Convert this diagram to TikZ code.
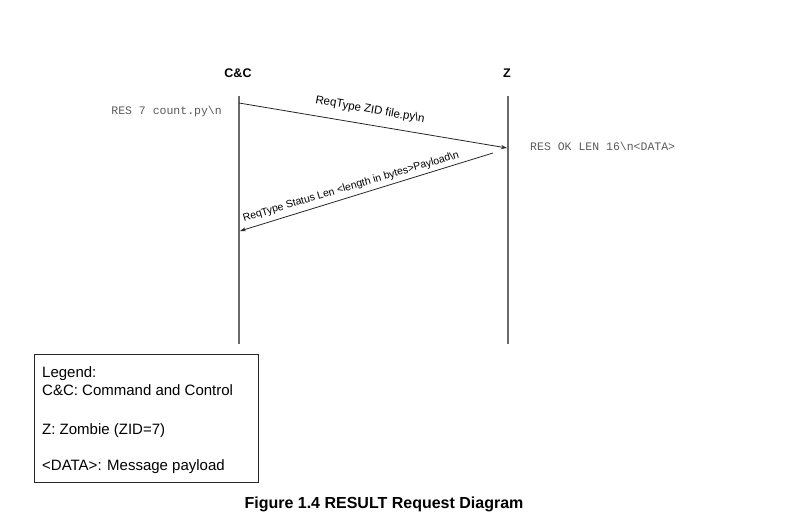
\documentclass[tikz,border=0pt]{standalone}
\usepackage{fontspec}
\setmainfont{Liberation Sans}
\newfontfamily\monofam{Liberation Mono}
\usetikzlibrary{arrows.meta}
\definecolor{monogray}{HTML}{5a5a5a}
\definecolor{linegray}{HTML}{6a6a6a}
\tikzset{
  lifeline/.style={draw=linegray, line width=1.2pt},
  msg/.style={draw=black!85, line width=0.8pt, -{Stealth[length=6pt,width=4pt]}},
  actor/.style={font=\fontsize{12.5}{14}\selectfont\bfseries, inner sep=0pt, anchor=base},
  msglabel/.style={inner sep=0pt, anchor=center},
  monotext/.style={font=\monofam\fontsize{11.5}{13}\selectfont, text=monogray, inner sep=0pt},
  legendtext/.style={font=\fontsize{15}{17}\selectfont, inner sep=0pt, anchor=base west},
  legendbox/.style={draw=black!85, line width=0.8pt, inner sep=0pt}
}
\begin{document}
\begin{tikzpicture}[x=1pt,y=-1pt]
\useasboundingbox (0,0) rectangle (786,529);
% actors
\node[actor] (cc) at (238,78) {C\&C};
\node[actor] (z) at (507,78) {Z};
% lifelines
\coordinate (cctop) at (239,96);
\coordinate (ccbot) at (239,344);
\coordinate (ztop) at (508,96);
\coordinate (zbot) at (508,344);
\draw[lifeline] (cctop) -- (ccbot);
\draw[lifeline] (ztop) -- (zbot);
% messages
\coordinate (m1s) at (239,103);
\coordinate (m1e) at (507,148);
\coordinate (m2s) at (493,153);
\coordinate (m2e) at (240,231);
\draw[msg] (m1s) -- (m1e);
\draw[msg] (m2s) -- (m2e);
\node[msglabel, rotate=-10, font=\fontsize{11.5}{13}\selectfont] (l1) at (370,110) {ReqType ZID file.py\textbackslash n};
\node[msglabel, rotate=16.5, font=\fontsize{10.5}{12}\selectfont] (l2) at (351,187) {ReqType Status Len <length in bytes>Payload\textbackslash n};
% side notes
\node[monotext, anchor=base east] (n1) at (222,115) {RES 7 count.py\textbackslash n};
\node[monotext, anchor=base west] (n2) at (530,151) {RES OK LEN 16\textbackslash n<DATA>};
% legend
\draw[legendbox] (34,354) rectangle (258,482);
\node[legendtext] (lg1) at (42,377.5) {Legend:};
\node[legendtext] (lg2) at (42,395.5) {C\&C: Command and Control};
\node[legendtext] (lg3) at (42,434.5) {Z: Zombie (ZID=7)};
\node[legendtext] (lg4) at (42,470) {<DATA>: Message payload};
% caption
\node[inner sep=0pt, anchor=base, font=\fontsize{16}{18}\selectfont\bfseries] (cap) at (384,508) {Figure 1.4 RESULT Request Diagram};
\end{tikzpicture}
\end{document}
